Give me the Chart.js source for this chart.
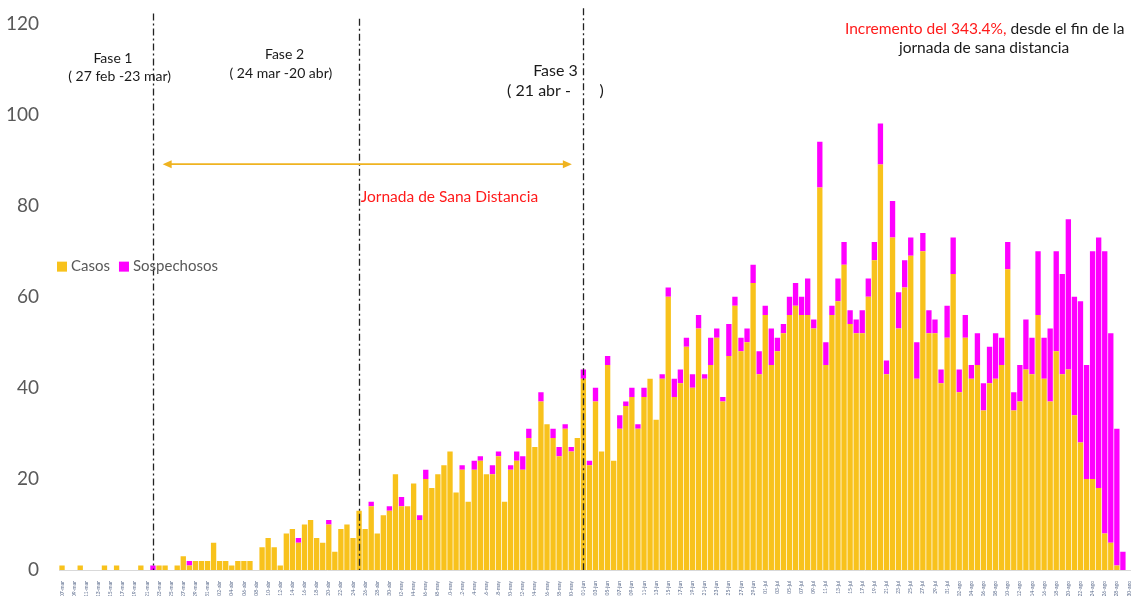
<!DOCTYPE html>
<html>
<head>
<meta charset="utf-8">
<script src="https://cdn.jsdelivr.net/npm/chart.js@4"></script>
<style>
  body { margin: 0; overflow: hidden; background: #fff; }
</style>
</head>
<body>
<canvas id="grafico" width="1140" height="596"></canvas>
<script>
// fechas del eje x, un dia por barra (07-mar ... 30-ago)
const meses = [['mar', 7, 31], ['abr', 1, 30], ['may', 1, 31], ['jun', 1, 30], ['jul', 1, 31], ['ago', 1, 30]];
const fechas = [];
for (const [mes, desde, hasta] of meses) {
    for (let d = desde; d <= hasta; d++) {
        fechas.push(String(d).padStart(2, '0') + '-' + mes);
    }
}

// casos confirmados por dia
const casos = [
    1, 0, 0, 1, 0, 0, 0, 1, 0, 1, 0, 0, 0, 1, 0, 0, 1, 1, 0, 1,
    3, 1, 2, 2, 2, 6, 2, 2, 1, 2, 2, 2, 0, 5, 7, 5, 1, 8, 9, 6,
    10, 11, 7, 6, 10, 4, 9, 10, 7, 13, 9, 14, 8, 12, 13, 21, 14, 14, 19, 11,
    20, 18, 21, 23, 26, 17, 22, 15, 22, 24, 21, 21, 25, 15, 22, 24, 22, 29, 27, 37,
    32, 29, 25, 31, 26, 29, 42, 23, 37, 26, 45, 24, 31, 36, 38, 31, 38, 42, 33, 42,
    60, 38, 41, 49, 40, 53, 42, 45, 51, 37, 47, 58, 48, 50, 63, 43, 56, 45, 48, 52,
    56, 58, 56, 56, 53, 84, 45, 56, 59, 67, 54, 52, 52, 60, 68, 89, 43, 73, 53, 62,
    69, 42, 70, 52, 52, 41, 51, 65, 39, 51, 42, 45, 35, 41, 42, 45, 66, 35, 37, 44,
    43, 56, 42, 37, 48, 43, 44, 34, 28, 20, 20, 18, 8, 6, 1, 0
];

// casos sospechosos por dia (van encima de los casos)
const sospechosos = [
    0, 0, 0, 0, 0, 0, 0, 0, 0, 0, 0, 0, 0, 0, 0, 1, 0, 0, 0, 0,
    0, 1, 0, 0, 0, 0, 0, 0, 0, 0, 0, 0, 0, 0, 0, 0, 0, 0, 0, 1,
    0, 0, 0, 0, 1, 0, 0, 0, 0, 0, 0, 1, 0, 0, 1, 0, 2, 0, 0, 1,
    2, 0, 0, 0, 0, 0, 1, 0, 2, 1, 0, 2, 1, 0, 1, 2, 3, 2, 0, 2,
    0, 2, 2, 1, 1, 0, 2, 1, 3, 0, 2, 0, 3, 1, 2, 1, 2, 0, 0, 1,
    2, 4, 3, 2, 3, 3, 1, 6, 2, 1, 7, 2, 3, 3, 4, 5, 2, 8, 3, 2,
    4, 5, 4, 8, 2, 10, 5, 2, 5, 5, 3, 3, 5, 4, 4, 9, 3, 8, 8, 6,
    4, 8, 4, 5, 3, 3, 7, 8, 5, 5, 3, 7, 6, 8, 10, 6, 6, 4, 8, 11,
    8, 14, 9, 16, 22, 22, 33, 26, 31, 25, 50, 55, 62, 46, 30, 4
];

const ticksY = [0, 20, 40, 60, 80, 100, 120];

// lineas de fase (indice de barra) y su altura arriba
const lineasFase = [15, 49, 86];
const topesFase = [122.2, 121, 123.3];

// textos sobre el grafico: posicion en indice de barra / valor del eje y
const textos = [
    { t: 'Fase 1', x: 8.4, y: 112.3, size: 14 },
    { t: '( 27 feb -23 mar)', x: 9.5, y: 108.4, size: 14 },
    { t: 'Fase 2', x: 36.7, y: 113.2, size: 14 },
    { t: '( 24 mar -20 abr)', x: 36.1, y: 109.0, size: 14 },
    { t: 'Fase 3', x: 81.4, y: 109.5, size: 16 },
    { t: '( 21 abr -       )', x: 81.4, y: 105.3, size: 16 },
    { t: 'Jornada de Sana Distancia', x: 63.9, y: 81.9, size: 15.5, color: '#ff1a1a' },
    { t: 'jornada de sana distancia', x: 152.1, y: 114.7, size: 15.5 }
];

const amarillo = '#f8c21c';
const magenta = '#ff00ff';
const fuente = 'Lato, "Open Sans", sans-serif';

const anotaciones = {
    id: 'anotaciones',
    afterDraw(chart) {
        const ctx = chart.ctx;
        const x = chart.scales.x;
        const y = chart.scales.y;
        ctx.save();

        // lineas punto-raya de las fases
        ctx.strokeStyle = '#222';
        ctx.lineWidth = 1.3;
        ctx.setLineDash([7, 3, 2, 3]);
        lineasFase.forEach((idx, i) => {
            const px = Math.round(x.getPixelForValue(idx)) + 0.5;
            ctx.beginPath();
            ctx.moveTo(px, y.getPixelForValue(topesFase[i]));
            ctx.lineTo(px, y.getPixelForValue(0));
            ctx.stroke();
        });
        ctx.setLineDash([]);

        // flecha de la jornada de sana distancia
        const x1 = x.getPixelForValue(16.6);
        const x2 = x.getPixelForValue(84.1);
        const py = y.getPixelForValue(89.1);
        ctx.strokeStyle = '#efb320';
        ctx.fillStyle = '#efb320';
        ctx.lineWidth = 1.6;
        ctx.beginPath();
        ctx.moveTo(x1 + 6, py);
        ctx.lineTo(x2 - 6, py);
        ctx.stroke();
        ctx.beginPath();
        ctx.moveTo(x1, py); ctx.lineTo(x1 + 9, py - 4); ctx.lineTo(x1 + 9, py + 4); ctx.closePath();
        ctx.moveTo(x2, py); ctx.lineTo(x2 - 9, py - 4); ctx.lineTo(x2 - 9, py + 4); ctx.closePath();
        ctx.fill();

        // textos
        ctx.textAlign = 'center';
        ctx.textBaseline = 'middle';
        textos.forEach(tx => {
            ctx.font = tx.size + 'px ' + fuente;
            ctx.fillStyle = tx.color || '#1a1a1a';
            ctx.fillText(tx.t, x.getPixelForValue(tx.x), y.getPixelForValue(tx.y));
        });

        // primera linea del texto de arriba a la derecha, dos colores
        ctx.font = '15.5px ' + fuente;
        const rojo = 'Incremento del 343.4%,';
        const resto = ' desde el fin de la';
        const ancho = ctx.measureText(rojo + resto).width;
        let inicio = x.getPixelForValue(152.2) - ancho / 2;
        const ly = y.getPixelForValue(118.7);
        ctx.textAlign = 'left';
        ctx.fillStyle = '#ff1a1a';
        ctx.fillText(rojo, inicio, ly);
        ctx.fillStyle = '#1a1a1a';
        ctx.fillText(resto, inicio + ctx.measureText(rojo).width, ly);

        // leyenda
        ctx.font = '15px ' + fuente;
        let lx = chart.chartArea.left - 2;
        const legy = y.getPixelForValue(66.6);
        chart.data.datasets.forEach(ds => {
            ctx.fillStyle = ds.backgroundColor;
            ctx.fillRect(lx, legy - 5, 10, 10);
            ctx.fillStyle = '#595959';
            ctx.fillText(ds.label, lx + 14, legy);
            lx += 14 + ctx.measureText(ds.label).width + 9;
        });
        ctx.restore();
    }
};

const grafico = new Chart(document.getElementById('grafico'), {
    type: 'bar',
    data: {
        labels: fechas,
        datasets: [
            { label: 'Casos', data: casos, backgroundColor: amarillo, stack: 's' },
            { label: 'Sospechosos', data: sospechosos, backgroundColor: magenta, stack: 's' }
        ]
    },
    options: {
        responsive: false,
        animation: false,
        layout: { padding: { top: 18, right: 8, left: 0, bottom: 0 } },
        datasets: { bar: { categoryPercentage: 1, barPercentage: 0.88 } },
        plugins: { legend: { display: false }, tooltip: { enabled: false } },
        scales: {
            x: {
                stacked: true,
                grid: { display: false },
                border: { color: '#d9d9d9' },
                afterFit: s => { s.height = 26; },
                ticks: {
                    autoSkip: false,
                    minRotation: 90,
                    maxRotation: 90,
                    padding: 3,
                    color: '#5b6b8c',
                    font: { size: 5, family: fuente },
                    callback: (v, i) => (i % 2 === 0 ? fechas[i] : '')
                }
            },
            y: {
                stacked: true,
                min: 0,
                max: 120,
                grid: { display: false },
                border: { display: false },
                afterFit: s => { s.width = 59; },
                afterBuildTicks: s => { s.ticks = ticksY.map(v => ({ value: v })); },
                ticks: {
                    padding: 12,
                    color: '#595959',
                    font: { size: 19, family: fuente }
                }
            }
        }
    },
    plugins: [anotaciones]
});
</script>
</body>
</html>
